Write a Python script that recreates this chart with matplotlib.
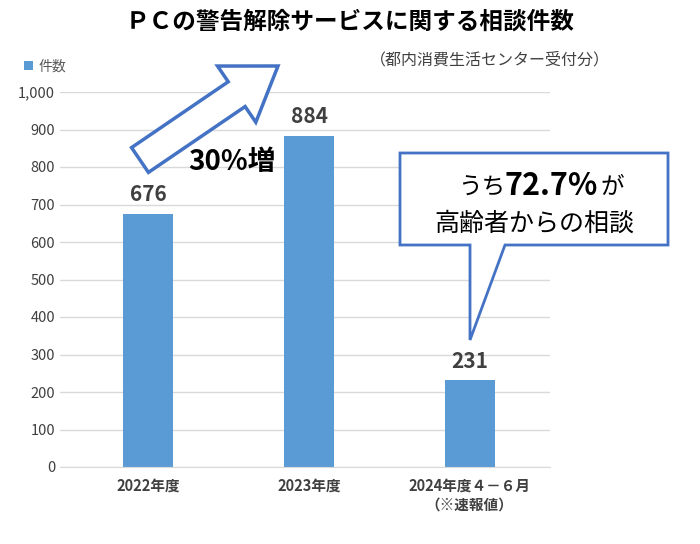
import matplotlib
matplotlib.use("Agg")
import matplotlib.pyplot as plt
from matplotlib.patches import FancyArrow, Polygon
from matplotlib.ticker import FuncFormatter

plt.rcParams["font.family"] = "Noto Sans CJK JP"

categories = ["2022年度", "2023年度", "2024年度４－６月\n（※速報値）"]
counts = [676, 884, 231]
yticks = [0, 100, 200, 300, 400, 500, 600, 700, 800, 900, 1000]

BLUE = "#5B9BD5"
EDGE = "#4472C4"

fig = plt.figure(figsize=(7, 5.44), dpi=100)
ax = fig.add_axes([60 / 700, 1 - 467 / 544, 490 / 700, 375 / 544])

x = range(len(categories))
ax.bar(x, counts, width=0.31, color=BLUE, label="件数", zorder=2)
for xi, v in zip(x, counts):
    ax.text(xi, v + 22, str(v), ha="center", va="bottom",
            fontsize=15, fontweight="bold", color="#404040")

ax.set_xlim(-0.55, 2.5)
ax.set_ylim(0, 1000)
ax.set_yticks(yticks)
ax.yaxis.set_major_formatter(FuncFormatter(lambda v, p: f"{int(v):,}"))
ax.set_xticks(list(x))
ax.set_xticklabels(categories, fontsize=10.5, color="#404040", fontweight="bold")
ax.tick_params(axis="y", labelsize=10.5, colors="#404040", length=0)
ax.tick_params(axis="x", length=0, pad=8)
ax.grid(axis="y", color="#D9D9D9", linewidth=1, zorder=0)
for s in ["top", "right", "left"]:
    ax.spines[s].set_visible(False)
ax.spines["bottom"].set_color("#D9D9D9")

ax.legend(loc="upper left", bbox_to_anchor=(-0.1, 1.12), frameon=False,
          fontsize=10, handlelength=0.7, handleheight=0.7, handletextpad=0.4,
          labelcolor="#595959")

fig.text(0.5, 1 - 22 / 544, "ＰＣの警告解除サービスに関する相談件数",
         ha="center", va="center", fontsize=17, fontweight="bold")
fig.text(490 / 700, 1 - 60 / 544, "（都内消費生活センター受付分）",
         ha="center", va="center", fontsize=11.5, color="#404040")


def px(x0, y0):
    return x0 / 100, (544 - y0) / 100


# big hollow arrow
sx, sy = px(140, 160)
ex, ey = px(278, 66)
arrow = FancyArrow(sx, sy, ex - sx, ey - sy, width=0.3, head_width=0.68,
                   head_length=0.5, length_includes_head=True,
                   facecolor="white", edgecolor=EDGE, linewidth=2.5,
                   transform=fig.dpi_scale_trans, zorder=5)
fig.add_artist(arrow)
fig.text(232 / 700, 1 - 162 / 544, "30%増", ha="center", va="center",
         fontsize=20, fontweight="bold")

# callout box
pts = [(400, 153), (668, 153), (668, 245), (505, 245), (470, 340),
       (470, 245), (400, 245)]
callout = Polygon([px(a, b) for a, b in pts], closed=True, facecolor="white",
                  edgecolor=EDGE, linewidth=2, transform=fig.dpi_scale_trans,
                  zorder=5)
fig.add_artist(callout)
fig.text(505 / 700, 1 - 188 / 544, "うち", ha="right", va="center", fontsize=17, zorder=6)
fig.text(551 / 700, 1 - 186 / 544, "72.7%", ha="center", va="center",
         fontsize=22, fontweight="bold", zorder=6)
fig.text(600 / 700, 1 - 188 / 544, "が", ha="left", va="center", fontsize=17, zorder=6)
fig.text(534 / 700, 1 - 224 / 544, "高齢者からの相談", ha="center", va="center",
         fontsize=18, zorder=6)

fig.savefig("out.png", dpi=100)
